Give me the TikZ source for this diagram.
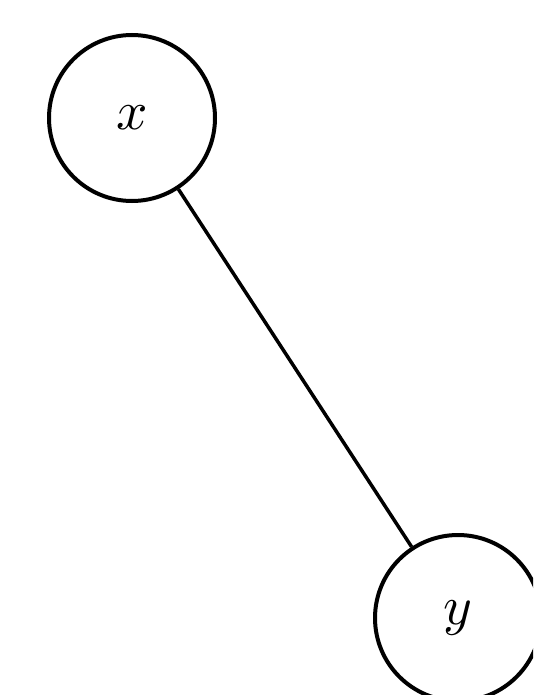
\documentclass[tikz,border=0pt]{standalone}
\begin{document}
\begin{tikzpicture}[x=1pt,y=-1pt,
  vertex/.style={circle,draw,line width=4pt,minimum size=166pt,inner sep=0pt},
  edge/.style={line width=3.5pt}]
\useasboundingbox (0,0) rectangle (533,695);
\clip (0,0) rectangle (533,695);
\node[vertex] (x) at (132,118) {\scalebox{5.5}{$x$}};
\node[vertex] (y) at (458,618) {\scalebox{5.5}{$y$}};
\draw[edge] (x) -- (y);
\end{tikzpicture}
\end{document}
